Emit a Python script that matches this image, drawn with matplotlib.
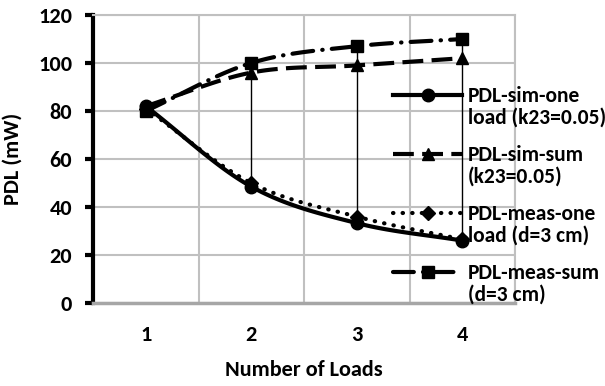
import numpy as np
import matplotlib
import matplotlib.pyplot as plt
import matplotlib.transforms as mtransforms
from matplotlib.legend_handler import HandlerLine2D

matplotlib.use('Agg')

# Data
loads = [1, 2, 3, 4]
sim_one = [82, 48.5, 33.3, 26]
sim_sum = [82, 96, 99, 102]
meas_one = [81, 50, 36, 26.5]
meas_sum = [80, 100, 107, 110]
labels = ["PDL-sim-one\nload (k23=0.05)", "PDL-sim-sum\n(k23=0.05)",
          "PDL-meas-one\nload (d=3 cm)", "PDL-meas-sum\n(d=3 cm)"]

plt.rcParams['font.family'] = 'Carlito'
plt.rcParams['font.weight'] = 'bold'
plt.rcParams['axes.labelweight'] = 'bold'
FS = 16
LFS = 15.5


def smooth(x, y, n=30):
    # Catmull-Rom curve through the points (like Excel's smoothed line)
    x = np.asarray(x, float)
    y = np.asarray(y, float)
    px = np.concatenate([[2 * x[0] - x[1]], x, [2 * x[-1] - x[-2]]])
    py = np.concatenate([[2 * y[0] - y[1]], y, [2 * y[-1] - y[-2]]])
    xs, ys = [], []
    for i in range(1, len(px) - 2):
        t = np.linspace(0, 1, n)
        for p, out in ((px, xs), (py, ys)):
            p0, p1, p2, p3 = p[i - 1], p[i], p[i + 1], p[i + 2]
            out.extend(0.5 * ((2 * p1) + (-p0 + p2) * t
                              + (2 * p0 - 5 * p1 + 4 * p2 - p3) * t ** 2
                              + (-p0 + 3 * p1 - 3 * p2 + p3) * t ** 3))
    return np.array(xs), np.array(ys)


class TopHandler(HandlerLine2D):
    # keep the legend symbol level with the first text line
    def create_artists(self, legend, orig_handle, xdescent, ydescent,
                       width, height, fontsize, trans):
        arts = super().create_artists(legend, orig_handle, xdescent, ydescent,
                                      width, height, fontsize, trans)
        shift = mtransforms.Affine2D().translate(0, fontsize * 0.58)
        for a in arts:
            a.set_transform(shift + trans)
        return arts


fig = plt.figure(figsize=(6.05, 3.86), dpi=100)
ax = fig.add_axes([93 / 605, 1 - 303 / 386, 422 / 605, 288 / 386])

styles = [
    (sim_one, dict(linestyle='-', marker='o', markersize=9)),
    (sim_sum, dict(linestyle=(0, (5, 2)), marker='^', markersize=9)),
    (meas_one, dict(linestyle=(0, (0.1, 2.2)), marker='D', markersize=7, dash_capstyle='round')),
    (meas_sum, dict(linestyle=(0, (5, 2.2, 0.1, 2.2)), marker='s', markersize=8, dash_capstyle='round')),
]

# high-low lines
allv = np.array([sim_one, sim_sum, meas_one, meas_sum])
ax.vlines(loads, allv.min(axis=0), allv.max(axis=0), color='black', lw=1, zorder=2)

handles = []
for (vals, st), lab in zip(styles, labels):
    sx, sy = smooth(loads, vals)
    ls = st['linestyle']
    capst = st.get('dash_capstyle', 'butt')
    ax.plot(sx, sy, color='black', lw=3, linestyle=ls, dash_capstyle=capst, zorder=3)
    ax.plot(loads, vals, color='black', linestyle='none', marker=st['marker'],
            markersize=st['markersize'], zorder=4)
    h, = ax.plot([], [], color='black', lw=3, linestyle=ls, dash_capstyle=capst,
                 marker=st['marker'], markersize=st['markersize'], label=lab)
    handles.append(h)

ax.set_xlim(0.5, 4.5)
ax.set_ylim(0, 120)
ax.set_yticks(range(0, 121, 20))
ax.set_xticks(loads)
ax.set_xticks(np.arange(0.5, 4.6, 0.5), minor=True)
ax.grid(True, which='minor', axis='x', color='#c0c0c0', lw=1.5)
ax.grid(True, which='major', axis='y', color='#c0c0c0', lw=1.5)
ax.set_axisbelow(True)

for s in ('top', 'right'):
    ax.spines[s].set_color('#c0c0c0')
    ax.spines[s].set_linewidth(1.5)
ax.spines['bottom'].set_color('#a6a6a6')
ax.spines['bottom'].set_linewidth(2.5)
ax.spines['left'].set_color('black')
ax.spines['left'].set_linewidth(3)
ax.tick_params(axis='y', direction='out', length=6, width=3, labelsize=FS, pad=9)
ax.tick_params(axis='x', which='both', length=0, labelsize=FS, pad=16)
for t in ax.get_xticklabels() + ax.get_yticklabels():
    t.set_fontweight('bold')

ax.set_xlabel('Number of Loads', fontsize=FS, fontweight='bold', labelpad=11)
ax.set_ylabel('PDL (mW)', fontsize=FS, fontweight='bold', labelpad=11)

leg = ax.legend(handles=handles, loc='upper left', bbox_to_anchor=(0.712, 0.752),
                frameon=False, fontsize=LFS, handlelength=3.2, handletextpad=0.25,
                labelspacing=0.8, borderpad=0, borderaxespad=0,
                prop={'family': 'Carlito', 'weight': 'bold', 'size': LFS},
                handler_map={matplotlib.lines.Line2D: TopHandler()})
for t in leg.get_texts():
    t.set_linespacing(1.1)

fig.savefig('out.png', dpi=100)
plt.close(fig)
